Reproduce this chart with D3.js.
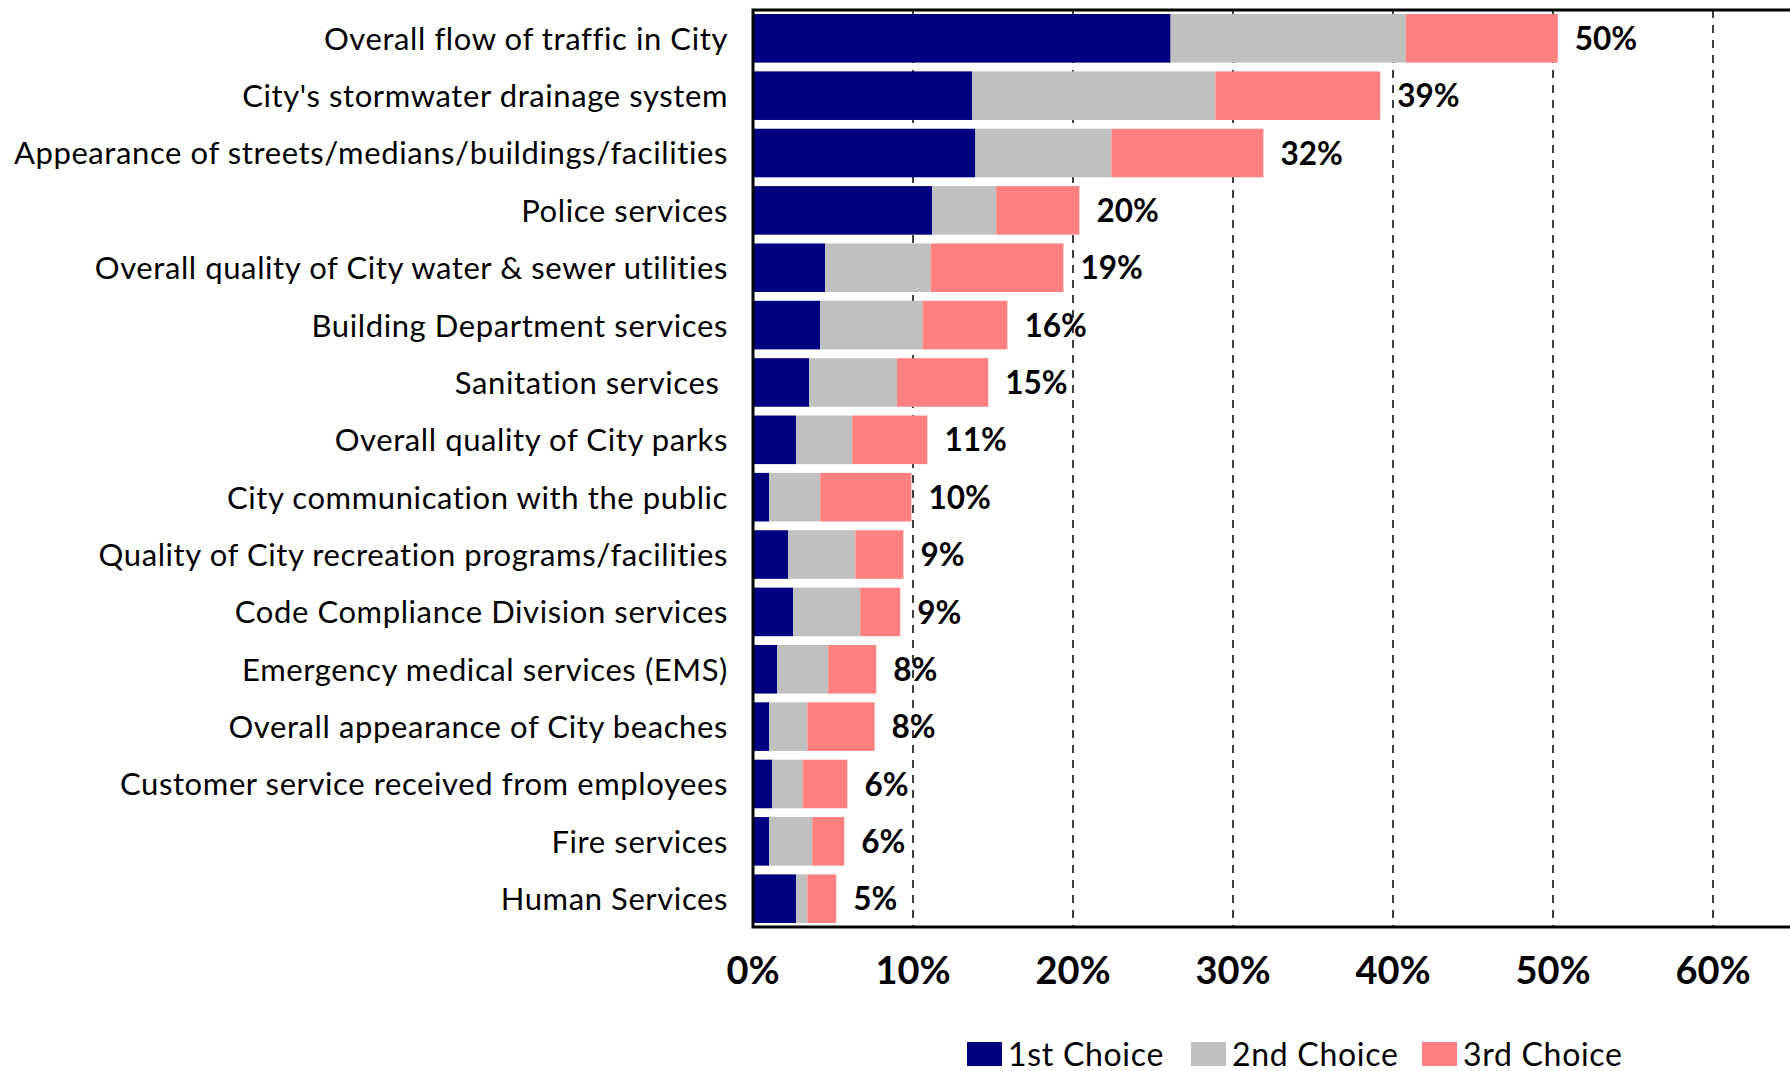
<!DOCTYPE html>
<html>
<head>
<meta charset="utf-8">
<script src="https://d3js.org/d3.v7.min.js"></script>
<style>
  body { margin: 0; background: #fff; }
  text { font-family: Lato, "Open Sans", sans-serif; fill: #000; }
</style>
</head>
<body>
<div id="chart"></div>
<script>
var categories = [
  "Overall flow of traffic in City",
  "City's stormwater drainage system",
  "Appearance of streets/medians/buildings/facilities",
  "Police services",
  "Overall quality of City water & sewer utilities",
  "Building Department services",
  "Sanitation services ",
  "Overall quality of City parks",
  "City communication with the public",
  "Quality of City recreation programs/facilities",
  "Code Compliance Division services",
  "Emergency medical services (EMS)",
  "Overall appearance of City beaches",
  "Customer service received from employees",
  "Fire services",
  "Human Services"
];
var firstChoice  = [26.1, 13.7, 13.9, 11.2, 4.5, 4.2, 3.5, 2.7, 1.0, 2.2, 2.5, 1.5, 1.0, 1.2, 1.0, 2.7];
var secondChoice = [14.7, 15.2, 8.5, 4.0, 6.6, 6.4, 5.5, 3.5, 3.2, 4.2, 4.2, 3.2, 2.4, 1.9, 2.7, 0.7];
var thirdChoice  = [9.5, 10.3, 9.5, 5.2, 8.3, 5.3, 5.7, 4.7, 5.7, 3.0, 2.5, 3.0, 4.2, 2.8, 2.0, 1.8];
var totalLabels  = ["50%", "39%", "32%", "20%", "19%", "16%", "15%", "11%", "10%", "9%", "9%", "8%", "8%", "6%", "6%", "5%"];
var seriesNames  = ["1st Choice", "2nd Choice", "3rd Choice"];
var xTicks       = [0, 10, 20, 30, 40, 50, 60];

var width = 1790,
    height = 1071;

var plotLeft = 753, plotTop = 10, plotBottom = 927;

var svg = d3.select("#chart")
    .append("svg")
    .attr("width", width)
    .attr("height", height);

var color = d3.scaleOrdinal()
    .domain(seriesNames)
    .range(["#000080", "#c0c0c0", "#ff8080"]);

var x = d3.scaleLinear()
    .domain([0, 60])
    .range([plotLeft, 1713]);

var y = d3.scaleBand()
    .domain(categories)
    .range([plotTop, plotBottom])
    .paddingInner(0.153)
    .paddingOuter(0.07);

var rows = categories.map(function(c, i) {
  return { cat: c, "1st Choice": firstChoice[i], "2nd Choice": secondChoice[i], "3rd Choice": thirdChoice[i], label: totalLabels[i] };
});

var stack = d3.stack().keys(seriesNames);
var layers = stack(rows);

// dashed gridlines (behind bars)
svg.append("g")
  .selectAll("line")
  .data(xTicks.filter(function(d) { return d > 0; }))
  .enter().append("line")
    .attr("x1", function(d) { return x(d); })
    .attr("x2", function(d) { return x(d); })
    .attr("y1", plotTop)
    .attr("y2", plotBottom)
    .attr("stroke", "#000")
    .attr("stroke-width", 1.5)
    .attr("stroke-dasharray", "8,7");

svg.append("g")
  .selectAll("g")
  .data(layers)
  .enter().append("g")
    .attr("fill", function(d) { return color(d.key); })
  .selectAll("rect")
  .data(function(d) { return d; })
  .enter().append("rect")
    .attr("x", function(d) { return x(d[0]); })
    .attr("y", function(d) { return y(d.data.cat); })
    .attr("width", function(d) { return x(d[1]) - x(d[0]); })
    .attr("height", y.bandwidth());

// plot border
svg.append("path")
    .attr("d", "M1800," + plotTop + "H" + plotLeft + "V" + plotBottom + "H1800")
    .attr("fill", "none")
    .attr("stroke", "#000")
    .attr("stroke-width", 3);

// total labels
svg.append("g")
  .selectAll("text")
  .data(rows)
  .enter().append("text")
    .attr("x", function(d) { return x(d["1st Choice"] + d["2nd Choice"] + d["3rd Choice"]) + 17; })
    .attr("y", function(d) { return y(d.cat) + y.bandwidth() / 2; })
    .attr("dy", "0.37em")
    .style("font-size", "31.5px")
    .style("font-weight", "bold")
    .text(function(d) { return d.label; });

// category labels
svg.append("g")
  .selectAll("text")
  .data(categories)
  .enter().append("text")
    .attr("x", plotLeft - 25)
    .attr("y", function(d) { return y(d) + y.bandwidth() / 2; })
    .attr("dy", "0.37em")
    .attr("text-anchor", "end")
    .style("font-size", "31px")
    .style("letter-spacing", "0.6px")
    .style("white-space", "pre")
    .text(function(d) { return d; });

// x tick labels
svg.append("g")
  .selectAll("text")
  .data(xTicks)
  .enter().append("text")
    .attr("x", function(d) { return x(d); })
    .attr("y", 984)
    .attr("text-anchor", "middle")
    .style("font-size", "38px")
    .style("font-weight", "bold")
    .text(function(d) { return d + "%"; });

// legend
var legendX = [967, 1191, 1422];
var legend = svg.append("g")
  .selectAll("g")
  .data(seriesNames)
  .enter().append("g")
    .attr("transform", function(d, i) { return "translate(" + legendX[i] + ",1042)"; });

legend.append("rect")
    .attr("width", 35)
    .attr("height", 24)
    .attr("fill", function(d) { return color(d); });

legend.append("text")
    .attr("x", 41)
    .attr("y", 24)
    .style("font-size", "32px")
    .style("letter-spacing", "0.7px")
    .text(function(d) { return d; });
</script>
</body>
</html>
